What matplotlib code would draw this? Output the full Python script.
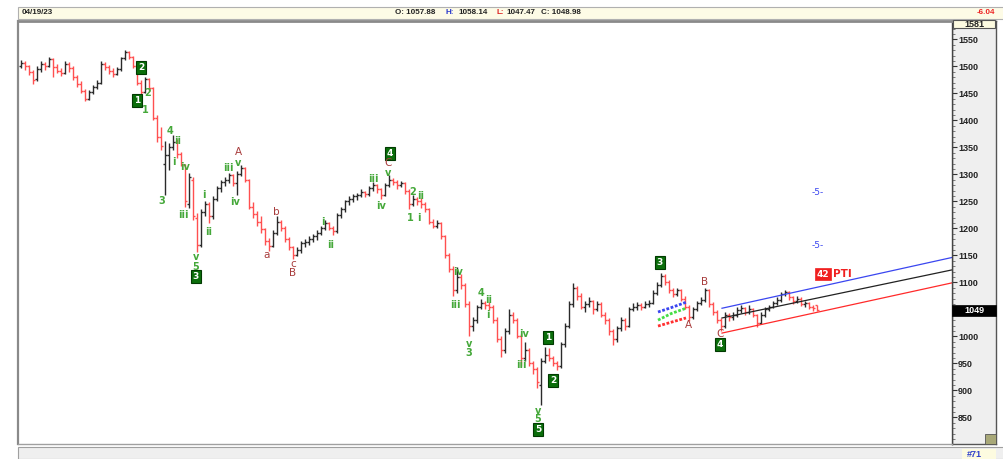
import matplotlib
matplotlib.use('Agg')
import matplotlib.pyplot as plt
from matplotlib.patches import Rectangle
from matplotlib.ticker import MultipleLocator, FuncFormatter

W, H = 1004, 459
fig = plt.figure(figsize=(W / 100, H / 100), dpi=100)
plt.rcParams['font.family'] = ['Liberation Sans', 'DejaVu Sans']


def fx(x):
    return x / W


def fy(y):
    return 1 - y / H


# ---------------- data (OHLC bars) ----------------
opens = [1500, 1506, 1500, 1490, 1476, 1495, 1505, 1500, 1514, 1498,
         1492, 1488, 1505, 1496, 1480, 1468, 1455, 1440, 1452, 1462,
         1470, 1505, 1498, 1492, 1486, 1495, 1515, 1526, 1518, 1500,
         1470, 1452, 1476, 1460, 1405, 1370, 1320, 1335, 1350, 1360,
         1338, 1318, 1245, 1290, 1220, 1170, 1230, 1245, 1222, 1255,
         1274, 1285, 1290, 1298, 1284, 1300, 1312, 1290, 1240, 1226,
         1212, 1198, 1176, 1168, 1192, 1212, 1200, 1180, 1165, 1150,
         1160, 1172, 1175, 1180, 1185, 1192, 1200, 1210, 1200, 1195,
         1225, 1235, 1250, 1255, 1260, 1262, 1268, 1264, 1275, 1280,
         1272, 1262, 1280, 1290, 1285, 1280, 1283, 1270, 1245, 1255,
         1250, 1245, 1235, 1212, 1205, 1210, 1185, 1150, 1125, 1085,
         1110, 1095, 1060, 1020, 1030, 1055, 1062, 1058, 1055, 1030,
         995, 975, 1010, 1040, 1030, 1000, 960, 975, 950, 940,
         910, 955, 965, 960, 950, 945, 985, 1020, 1060, 1090,
         1075, 1055, 1060, 1065, 1050, 1060, 1040, 1030, 1010, 995,
         1015, 1030, 1020, 1050, 1055, 1058, 1055, 1060, 1062, 1080,
         1095, 1112, 1100, 1085, 1078, 1085, 1070, 1055, 1035, 1050,
         1062, 1068, 1085, 1060, 1045, 1030, 1020, 1040, 1035, 1040,
         1048, 1052, 1045, 1050, 1040, 1025, 1040, 1050, 1055, 1062,
         1068, 1078, 1082, 1072, 1065, 1070, 1060, 1062, 1055, 1057.88]
highs = [1512, 1510, 1503, 1494, 1500, 1510, 1508, 1518, 1516, 1505,
         1496, 1510, 1508, 1500, 1484, 1472, 1458, 1456, 1466, 1474,
         1510, 1508, 1502, 1496, 1498, 1518, 1530, 1528, 1520, 1504,
         1474, 1480, 1478, 1462, 1410, 1388, 1362, 1358, 1372, 1365,
         1342, 1320, 1302, 1295, 1228, 1235, 1250, 1248, 1260, 1278,
         1290, 1295, 1302, 1300, 1306, 1318, 1314, 1292, 1248, 1232,
         1222, 1200, 1182, 1196, 1222, 1216, 1204, 1184, 1168, 1165,
         1176, 1180, 1186, 1190, 1196, 1205, 1216, 1212, 1204, 1228,
         1240, 1252, 1260, 1264, 1266, 1272, 1270, 1278, 1285, 1282,
         1275, 1284, 1298, 1294, 1290, 1288, 1285, 1272, 1262, 1258,
         1256, 1248, 1238, 1218, 1215, 1212, 1188, 1155, 1130, 1128,
         1115, 1098, 1065, 1035, 1058, 1070, 1066, 1064, 1058, 1035,
         1000, 1015, 1050, 1045, 1034, 1004, 990, 978, 955, 944,
         960, 980, 978, 964, 955, 990, 1025, 1065, 1098, 1094,
         1080, 1066, 1072, 1068, 1065, 1063, 1045, 1034, 1014, 1020,
         1036, 1034, 1055, 1062, 1064, 1062, 1066, 1068, 1085, 1100,
         1118, 1115, 1104, 1090, 1090, 1088, 1074, 1058, 1055, 1066,
         1072, 1090, 1088, 1064, 1048, 1034, 1045, 1044, 1045, 1055,
         1058, 1055, 1058, 1053, 1042, 1045, 1054, 1058, 1066, 1072,
         1082, 1086, 1084, 1075, 1074, 1072, 1066, 1064, 1058, 1058.14]
lows = [1496, 1494, 1484, 1468, 1472, 1490, 1494, 1498, 1480, 1488,
        1482, 1486, 1490, 1474, 1462, 1450, 1436, 1438, 1448, 1458,
        1468, 1494, 1486, 1480, 1484, 1492, 1512, 1514, 1496, 1466,
        1445, 1450, 1455, 1400, 1360, 1345, 1262, 1308, 1345, 1330,
        1315, 1240, 1238, 1215, 1156, 1165, 1222, 1210, 1218, 1250,
        1268, 1278, 1284, 1278, 1262, 1296, 1285, 1235, 1220, 1205,
        1192, 1170, 1158, 1165, 1188, 1195, 1175, 1160, 1143, 1148,
        1155, 1165, 1170, 1174, 1178, 1188, 1196, 1196, 1188, 1192,
        1220, 1230, 1244, 1248, 1252, 1258, 1258, 1260, 1270, 1266,
        1255, 1260, 1276, 1280, 1272, 1276, 1264, 1235, 1242, 1244,
        1238, 1230, 1208, 1200, 1200, 1180, 1145, 1120, 1075, 1080,
        1088, 1055, 1000, 1010, 1025, 1050, 1050, 1048, 1025, 990,
        962, 970, 1005, 1025, 996, 945, 955, 945, 930, 905,
        873, 950, 955, 945, 938, 942, 980, 1015, 1055, 1068,
        1050, 1045, 1055, 1042, 1046, 1035, 1022, 1002, 984, 990,
        1010, 1012, 1018, 1046, 1048, 1048, 1052, 1055, 1060, 1076,
        1092, 1095, 1080, 1072, 1074, 1065, 1050, 1028, 1032, 1046,
        1058, 1064, 1055, 1040, 1025, 1010, 1016, 1028, 1030, 1036,
        1044, 1040, 1042, 1035, 1017, 1022, 1036, 1046, 1052, 1058,
        1064, 1074, 1068, 1060, 1062, 1056, 1055, 1050, 1046, 1047.47]
closes = [1506, 1500, 1490, 1474, 1495, 1505, 1500, 1514, 1498, 1492,
          1488, 1505, 1496, 1480, 1468, 1455, 1440, 1452, 1462, 1470,
          1505, 1498, 1492, 1486, 1495, 1515, 1526, 1518, 1500, 1470,
          1452, 1476, 1460, 1405, 1370, 1352, 1335, 1350, 1360, 1338,
          1320, 1250, 1295, 1222, 1170, 1230, 1245, 1222, 1255, 1274,
          1285, 1290, 1298, 1284, 1300, 1312, 1290, 1240, 1226, 1212,
          1198, 1176, 1168, 1192, 1212, 1200, 1180, 1165, 1150, 1160,
          1172, 1175, 1180, 1185, 1192, 1200, 1210, 1200, 1195, 1225,
          1235, 1250, 1255, 1260, 1262, 1268, 1264, 1275, 1280, 1272,
          1262, 1280, 1290, 1285, 1280, 1283, 1270, 1245, 1255, 1250,
          1245, 1235, 1212, 1205, 1210, 1185, 1150, 1125, 1085, 1110,
          1095, 1060, 1020, 1030, 1055, 1062, 1058, 1055, 1030, 995,
          975, 1010, 1040, 1030, 1000, 960, 975, 950, 940, 915,
          955, 965, 960, 950, 945, 985, 1020, 1060, 1090, 1075,
          1055, 1060, 1065, 1050, 1060, 1040, 1030, 1010, 995, 1015,
          1030, 1020, 1050, 1055, 1058, 1055, 1060, 1062, 1080, 1095,
          1112, 1100, 1085, 1078, 1085, 1070, 1055, 1035, 1050, 1062,
          1068, 1085, 1060, 1045, 1030, 1020, 1040, 1035, 1040, 1048,
          1052, 1045, 1050, 1040, 1025, 1040, 1050, 1055, 1062, 1068,
          1078, 1082, 1072, 1065, 1070, 1060, 1062, 1055, 1052, 1048.98]

# Elliott wave labels: (text, bar index, price)
box_labels = [("2", 30, 1497), ("1", 29, 1436), ("3", 43.75, 1110),
              ("4", 92.25, 1339), ("5", 129.25, 827), ("1", 131.75, 997),
              ("2", 133, 919), ("3", 159.75, 1136), ("4", 174.75, 984)]
green_labels = [("2", 31.75, 1450), ("1", 31, 1419), ("4", 37.25, 1380),
                ("ii", 39.25, 1362), ("i", 38.25, 1323), ("3", 35.25, 1250),
                ("iv", 41, 1313), ("iii", 40.5, 1225), ("v", 43.75, 1147),
                ("5", 43.75, 1128), ("i", 45.75, 1262), ("ii", 47, 1193),
                ("iii", 51.75, 1311), ("iv", 53.5, 1249), ("v", 54.25, 1321),
                ("i", 75.5, 1212), ("ii", 77.5, 1169), ("iii", 88, 1291),
                ("iv", 90, 1241), ("v", 91.75, 1302), ("2", 98, 1267),
                ("ii", 100, 1260), ("1", 97.25, 1219), ("i", 99.5, 1219),
                ("iv", 109.25, 1119), ("iii", 108.5, 1058), ("v", 112, 986),
                ("3", 112, 970), ("4", 115, 1080), ("ii", 117, 1067),
                ("i", 116.75, 1039), ("iv", 125.75, 1004), ("iii", 125, 947),
                ("v", 129.25, 862), ("5", 129.25, 846)]
brown_labels = [("A", 54.25, 1341), ("a", 61.5, 1151), ("b", 63.75, 1230),
                ("c", 68, 1133), ("B", 68, 1117), ("C", 91.75, 1321),
                ("A", 166.75, 1021), ("B", 171, 1100), ("C", 174.75, 1005)]

# channel lines (start/end index, start/end price)
channel_x = [175.25, 232.75]
blue_line = [1052, 1146]
black_line = [1034, 1123]
red_line = [1006, 1099]

short_x = [159.25, 162.5, 166.25]
short_blue = [1045, 1053, 1063]
short_green = [1030, 1042, 1052]
short_red = [1019, 1026, 1034]

last_price = 1049

# ---------------- main axes ----------------
ax = fig.add_axes([fx(18), fy(444), fx(952) - fx(18), fy(21) - fy(444)], zorder=2)
ax.set_xlim(-0.75, 232.75)
ax.set_ylim(800.6, 1583.9)

n = len(closes)
xs = list(range(n))
cols = ['#ff5050' if c < o else '#2a2a2a' for o, c in zip(opens, closes)]
ax.vlines(xs, lows, highs, colors=cols, lw=1.0)
ax.hlines(opens, [x - 0.5 for x in xs], xs, colors=cols, lw=1.0)
ax.hlines(closes, xs, [x + 0.5 for x in xs], colors=cols, lw=1.0)

ax.plot(channel_x, blue_line, color='#3a46f0', lw=0.9)
ax.plot(channel_x, black_line, color='#222222', lw=0.9)
ax.plot(channel_x, red_line, color='#ff2a2a', lw=0.9)

ax.plot(short_x, short_blue, color='#3a46f0', lw=2.0, ls=(0, (1, 0.6)))
ax.plot(short_x, short_green, color='#44dd44', lw=2.0, ls=(0, (1, 0.6)))
ax.plot(short_x, short_red, color='#ff3030', lw=2.0, ls=(0, (1, 0.6)))

for t, i, p in box_labels:
    ax.text(i, p, t, ha='center', va='center', color='white', fontsize=6.5,
            fontweight='bold', family='DejaVu Sans',
            bbox=dict(boxstyle='square,pad=0.22', fc='#0b6e0b', ec='#013a01', lw=0.8))
for t, i, p in green_labels:
    ax.text(i, p, t, ha='center', va='center', color='#45a83a', fontsize=7,
            fontweight='bold', family='DejaVu Sans')
for t, i, p in brown_labels:
    ax.text(i, p, t, ha='center', va='center', color='#a83c3c', fontsize=7.5,
            family='DejaVu Sans')

ax.text(199.25, 1266, "-5-", ha='center', va='center', color='#3a46f0', fontsize=6.5,
        family='DejaVu Sans')
ax.text(199.25, 1169, "-5-", ha='center', va='center', color='#3a46f0', fontsize=6.5,
        family='DejaVu Sans')
ax.text(200.5, 1115, "42", ha='center', va='center', color='white', fontsize=6.5,
        fontweight='bold', family='DejaVu Sans',
        bbox=dict(boxstyle='square,pad=0.15', fc='#f02020', ec='#f02020', lw=0.5))
ax.text(203.0, 1115, "PTI", ha='left', va='center', color='#f02020', fontsize=7.5,
        fontweight='bold', family='DejaVu Sans')

ax.set_xticks([])
ax.yaxis.tick_right()
ax.yaxis.set_major_locator(MultipleLocator(50))
ax.yaxis.set_minor_locator(MultipleLocator(10))
ax.yaxis.set_major_formatter(
    FuncFormatter(lambda v, pos: '' if abs(v - last_price) < 15 else f'{v:.0f}'))
ax.tick_params(axis='y', which='major', direction='out', length=3.5, width=0.8,
               color='#333333', labelsize=6.5, pad=1, labelcolor='#222222')
ax.tick_params(axis='y', which='minor', direction='out', length=1.8, width=0.6,
               color='#666666')
for lab in ax.get_yticklabels():
    lab.set_fontweight('bold')
ax.spines['left'].set_color('#8a8a8a')
ax.spines['left'].set_linewidth(1.6)
ax.spines['top'].set_color('#8a8a8a')
ax.spines['top'].set_linewidth(2.0)
ax.spines['bottom'].set_color('#a0a0a0')
ax.spines['bottom'].set_linewidth(1.0)
ax.spines['right'].set_color('#444444')
ax.spines['right'].set_linewidth(1.0)

# ---------------- right price panel ----------------
panel = fig.add_axes([fx(952), fy(444), fx(996) - fx(952), fy(21) - fy(444)], zorder=1)
panel.set_facecolor('#efefef')
panel.set_xticks([])
panel.set_yticks([])
for s in panel.spines.values():
    s.set_color('#555555')
    s.set_linewidth(1.0)

# header bar
fig.patches.append(Rectangle((fx(18), fy(19)), fx(1004) - fx(18), fy(6.5) - fy(19),
                             transform=fig.transFigure, fc='#fdfbe6', ec='#b0b0b0',
                             lw=0.8, zorder=0))
hy = fy(12.6)
hdr = dict(fontsize=5.8, fontweight='bold', va='center', ha='left')
fig.text(fx(22), hy, "04/19/23", color='#222222', **hdr)
fig.text(fx(395), hy, "O: 1057.88", color='#222222', **hdr)
fig.text(fx(446), hy, "H:", color='#2233cc', **hdr)
fig.text(fx(458), hy, "1058.14", color='#222222', **hdr)
fig.text(fx(497), hy, "L:", color='#dd2222', **hdr)
fig.text(fx(506), hy, "1047.47", color='#222222', **hdr)
fig.text(fx(541), hy, "C: 1048.98", color='#222222', **hdr)
fig.text(fx(995), hy, "-6.04", color='#ee2222', fontsize=5.8, fontweight='bold',
         va='center', ha='right')

# top price box
fig.patches.append(Rectangle((fx(953), fy(28)), fx(995) - fx(953), fy(20) - fy(28),
                             transform=fig.transFigure, fc='#fdfbe0', ec='#555555',
                             lw=0.8, zorder=5))
fig.text(fx(974), fy(24.5), "1581", color='#222222', fontsize=6.5, fontweight='bold',
         ha='center', va='center', zorder=6)

# last price box
fig.patches.append(Rectangle((fx(952), fy(315.5)), fx(996) - fx(952), fy(304.5) - fy(315.5),
                             transform=fig.transFigure, fc='black', ec='black',
                             lw=0.5, zorder=5))
fig.text(fx(974), fy(310.2), f"{last_price}", color='white', fontsize=6.5, fontweight='bold',
         ha='center', va='center', zorder=6)

# corner icon
fig.patches.append(Rectangle((fx(985), fy(444)), fx(996) - fx(985), fy(434) - fy(444),
                             transform=fig.transFigure, fc='#a8a878', ec='#555555',
                             lw=0.6, zorder=5))

# bottom strip
fig.patches.append(Rectangle((fx(18), fy(459)), fx(1004) - fx(18), fy(447) - fy(459),
                             transform=fig.transFigure, fc='#efefef', ec='#a0a0a0',
                             lw=0.8, zorder=0))
fig.patches.append(Rectangle((fx(962), fy(459)), fx(996) - fx(962), fy(449) - fy(459),
                             transform=fig.transFigure, fc='#fdfbe0', ec='none',
                             zorder=1))
fig.text(fx(974), fy(454.5), "#71", color='#3344cc', fontsize=6.5, fontweight='bold',
         ha='center', va='center', zorder=2)

fig.savefig('out.png', dpi=100)
